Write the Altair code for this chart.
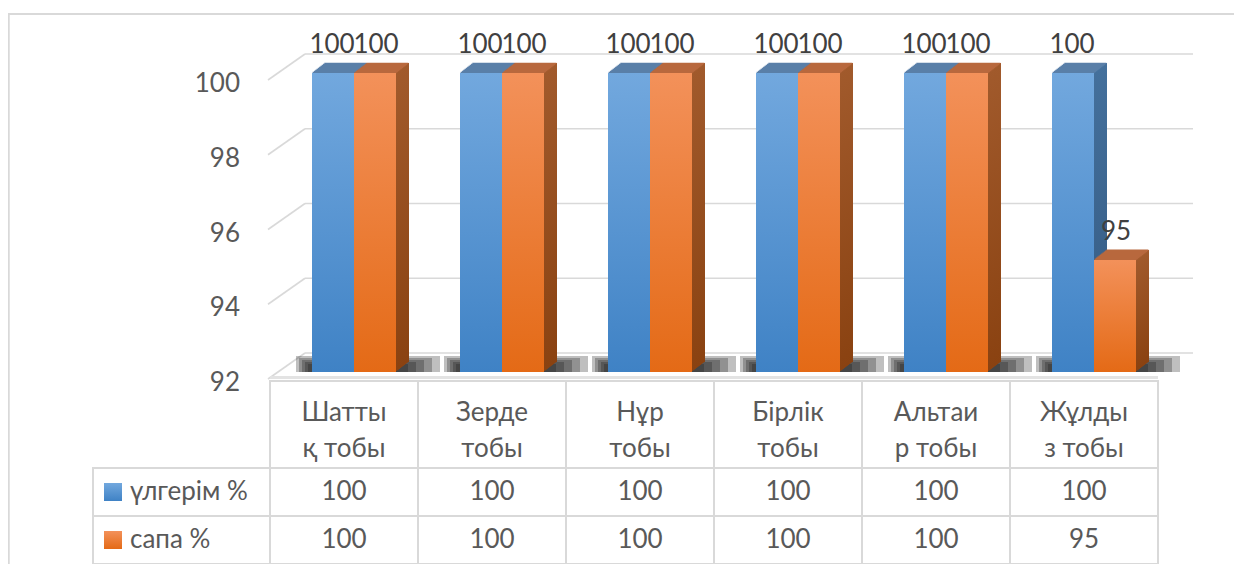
import altair as alt
import pandas as pd

# ---------------- data ----------------
categories = ["Шаттық тобы", "Зерде тобы", "Нұр тобы", "Бірлік тобы", "Альтаир тобы", "Жұлдыз тобы"]
header_labels = ["Шатты\nқ тобы", "Зерде\nтобы", "Нұр\nтобы", "Бірлік\nтобы", "Альтаи\nр тобы", "Жұлды\nз тобы"]
series_names = ["үлгерім %", "сапа %"]
ulgerim = [100, 100, 100, 100, 100, 100]
sapa = [100, 100, 100, 100, 100, 95]
y_ticks = [92, 94, 96, 98, 100]

rows = []
for c, a, b in zip(categories, ulgerim, sapa):
    rows.append({"cat": c, "series": series_names[0], "value": a})
    rows.append({"cat": c, "series": series_names[1], "value": b})
df = pd.DataFrame(rows)
hdr_df = pd.DataFrame({"cat": categories, "hdr": header_labels})
tick_df = pd.DataFrame({"v": y_ticks})
ser_df = pd.DataFrame({"series": series_names})

# ---------------- scales ----------------
W, H = 1226, 556
XS = alt.Scale(domain=categories, range=[262, 1150], paddingInner=0, paddingOuter=0)
YS = alt.Scale(domain=[92, 100], range=[364, 65], zero=False, nice=False)

FONT = "Lato"
GRID = "#d9d9d9"
TXT = "#595959"
BW = 42 / 148
DEPTH_X, DEPTH_Y = 13, 10
N = 10


def vgrad(c1, c2):
    return alt.LinearGradient(
        gradient="linear",
        stops=[alt.GradientStop(offset=0, color=c1), alt.GradientStop(offset=1, color=c2)],
        x1=0, y1=0, x2=0, y2=1,
    )


X = alt.X("cat:N", scale=XS, axis=None)
Y = alt.Y("value:Q", scale=YS, axis=None)

styles = {
    series_names[0]: dict(dx=-11, front=vgrad("#72a8de", "#3f82c5"), top="#5a7fa9",
                          side=vgrad("#44709c", "#345a82"), ldx=-12),
    series_names[1]: dict(dx=31, front=vgrad("#f3915a", "#e46a16"), top="#b8693e",
                          side=vgrad("#a15a2c", "#8a4211"), ldx=32),
}

layers = []

# outer frame
layers.append(alt.Chart(ser_df).mark_rule(color=GRID, strokeWidth=2).encode(
    x=alt.value(0.5), y=alt.value(6), y2=alt.value(H)))
layers.append(alt.Chart(ser_df).mark_rule(color=GRID, strokeWidth=2).encode(
    x=alt.value(0), x2=alt.value(W), y=alt.value(6)))

# back wall gridlines and side wall diagonals
layers.append(alt.Chart(tick_df).mark_rule(color=GRID, strokeWidth=1.6, yOffset=-19).encode(
    y=alt.Y("v:Q", scale=YS, axis=None), x=alt.value(297), x2=alt.value(1185)))
layers.append(alt.Chart(tick_df).mark_rule(color=GRID, strokeWidth=1.6, yOffset=7, y2Offset=-19).encode(
    y=alt.Y("v:Q", scale=YS, axis=None), y2=alt.Y2("v:Q"), x=alt.value(260), x2=alt.value(297)))

# floor front edge
layers.append(alt.Chart(ser_df).mark_rule(color="#e3e3e3", strokeWidth=3).encode(
    x=alt.value(262), x2=alt.value(1150), y=alt.value(369.5)))

# soft shadows on the floor (stacked translucent rects to fake a blur)
for j in range(5):
    layers.append(alt.Chart(hdr_df).mark_bar(
        width={"band": (144 - 11 * j) / 148}, xOffset=24 - 2.5 * j,
        y2Offset=-(16 - 2 * j), fill="#1a1a1a", opacity=0.28).encode(
        x=X, y=alt.Y(datum=92, scale=YS, axis=None), y2=alt.datum(92)))

# 3D bars
for s in series_names:
    st = styles[s]
    base = alt.Chart(df[df.series == s])
    for k in range(N, 0, -1):
        ox = st["dx"] + DEPTH_X * k / N
        oy = -DEPTH_Y * k / N
        layers.append(base.mark_bar(width={"band": BW}, xOffset=ox,
                                    yOffset=oy, y2Offset=oy, fill=st["side"]).encode(
            x=X, y=Y, y2=alt.datum(92)))
    for k in range(N):
        ox = st["dx"] + DEPTH_X * (k + 0.5) / N
        layers.append(base.mark_bar(width={"band": BW}, xOffset=ox,
                                    yOffset=-DEPTH_Y * (k + 1) / N - 0.3,
                                    y2Offset=-DEPTH_Y * k / N + 0.3,
                                    fill=st["top"]).encode(
            x=X, y=Y, y2=alt.Y2("value:Q")))
    layers.append(base.mark_bar(width={"band": BW}, xOffset=st["dx"],
                                fill=st["front"]).encode(x=X, y=Y, y2=alt.datum(92)))

# data labels
for s in series_names:
    st = styles[s]
    layers.append(alt.Chart(df[df.series == s]).mark_text(
        font=FONT, fontSize=26, color="#404040", dx=st["ldx"], dy=-28, baseline="middle").encode(
        x=X, y=Y, text=alt.Text("value:Q")))

# y tick labels
layers.append(alt.Chart(tick_df).mark_text(
    font=FONT, fontSize=26, color=TXT, align="right", baseline="middle", dy=11).encode(
    y=alt.Y("v:Q", scale=YS, axis=None), x=alt.value(232), text=alt.Text("v:Q")))

# ---------------- data table ----------------
CELL = dict(fill="white", stroke=GRID, strokeWidth=2)
layers.append(alt.Chart(hdr_df).mark_rect(**CELL).encode(x=X, y=alt.value(373), y2=alt.value(460)))
row_top = [460, 508]
text_layers = []
for i, s in enumerate(series_names):
    st = styles[s]
    t, b = row_top[i], row_top[i] + 48
    sub = df[df.series == s]
    sdf = ser_df[ser_df.series == s]
    layers.append(alt.Chart(sub).mark_rect(**CELL).encode(x=X, y=alt.value(t), y2=alt.value(b)))
    layers.append(alt.Chart(sdf).mark_rect(**CELL).encode(
        x=alt.value(85), x2=alt.value(262), y=alt.value(t), y2=alt.value(b)))
    text_layers.append(alt.Chart(sub).mark_text(font=FONT, fontSize=26, color=TXT, baseline="middle").encode(
        x=X, y=alt.value((t + b) / 2), text=alt.Text("value:Q")))
    text_layers.append(alt.Chart(sdf).mark_square(size=324, opacity=1, fill=st["front"]).encode(
        x=alt.value(105), y=alt.value((t + b) / 2)))
    text_layers.append(alt.Chart(sdf).mark_text(font=FONT, fontSize=26, color=TXT, align="left",
                                                 baseline="middle").encode(
        x=alt.value(122), y=alt.value((t + b) / 2), text="series:N"))
layers.extend(text_layers)
layers.append(alt.Chart(hdr_df).mark_text(font=FONT, fontSize=26, color=TXT, lineBreak="\n",
                                           lineHeight=36, baseline="middle").encode(
    x=X, y=alt.value(405), text="hdr:N"))

chart = alt.layer(*layers).properties(
    width=W, height=H, padding=0, autosize="none", background="white"
).configure_view(stroke=None)

chart.save("out.html", embed_options={"renderer": "svg", "actions": False})
